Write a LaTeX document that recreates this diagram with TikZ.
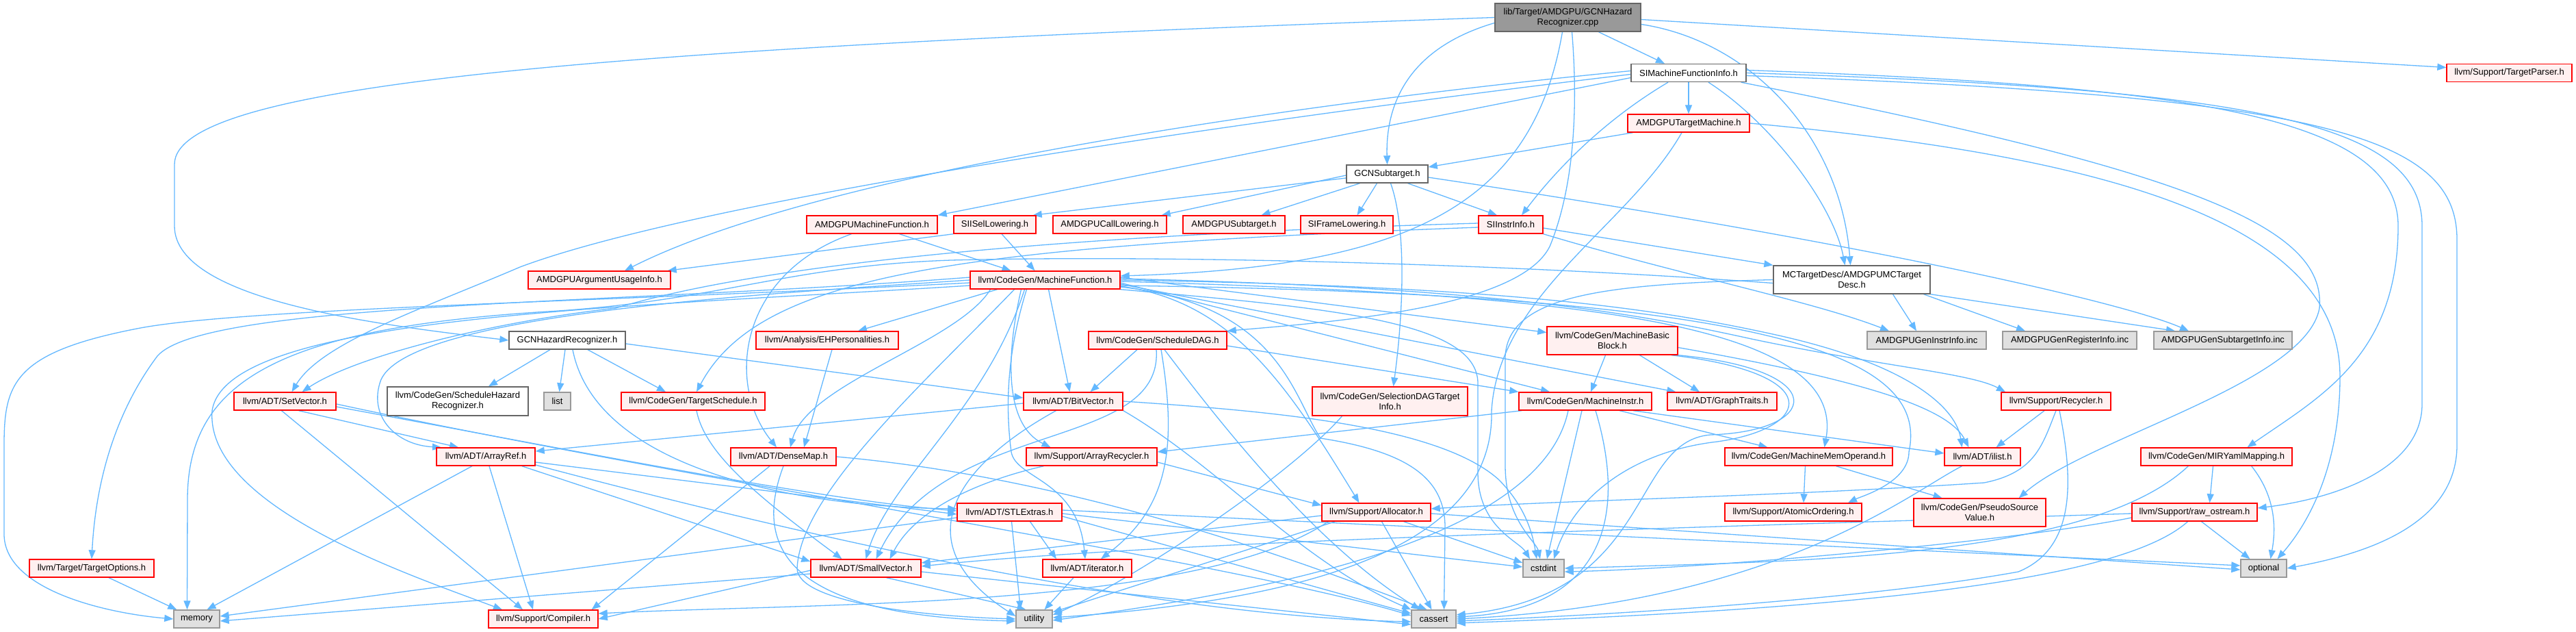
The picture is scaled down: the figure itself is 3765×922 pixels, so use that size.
\documentclass[tikz,border=0pt]{standalone}
\usepackage{fontspec}
\newfontfamily\nfam{Liberation Sans}
\usetikzlibrary{arrows.meta,calc}
\definecolor{edgec}{HTML}{63B8FF}
\definecolor{nred}{HTML}{FF0000}
\definecolor{nredfill}{HTML}{FFF0F0}
\definecolor{ndark}{HTML}{666666}
\definecolor{nmid}{HTML}{999999}
\definecolor{nlight}{HTML}{E0E0E0}
\pgfdeclarelayer{bg}
\pgfsetlayers{bg,main}
\tikzset{
  nb/.style={draw, line width=1.4pt, font=\nfam\fontsize{13}{15}\selectfont, inner sep=2pt, minimum height=26pt, align=center, text=black},
  redn/.style={nb, draw=nred, fill=nredfill},
  whiten/.style={nb, draw=ndark, fill=white},
  greyn/.style={nb, draw=nmid, fill=nlight},
  rootn/.style={nb, draw=ndark, fill=nmid},
  e/.style={draw=edgec, line width=1.3pt, -{Triangle[length=13pt,width=10pt]}},
}
\begin{document}
\begin{tikzpicture}[x=1pt,y=-1pt]
\useasboundingbox (0,0) rectangle (3765,922);
% nodes
\node[rootn, minimum width=213pt, minimum height=41pt] (root) at (2291.5,25.5) {lib/Target/AMDGPU/GCNHazard\\Recognizer.cpp};
\node[whiten, minimum width=168pt] (simfi) at (2468,106.5) {SIMachineFunctionInfo.h};
\node[redn, minimum width=183pt] (tparser) at (3667.5,106.5) {llvm/Support/TargetParser.h};
\node[redn, minimum width=178pt] (tm) at (2468,180) {AMDGPUTargetMachine.h};
\node[whiten, minimum width=119pt] (gcnsub) at (2027.5,254) {GCNSubtarget.h};
\node[redn, minimum width=191pt] (amfunc) at (1274.5,328) {AMDGPUMachineFunction.h};
\node[redn, minimum width=120pt] (isel) at (1454,328) {SIISelLowering.h};
\node[redn, minimum width=166pt] (calllow) at (1622,328) {AMDGPUCallLowering.h};
\node[redn, minimum width=149pt] (amsub) at (1803.5,328) {AMDGPUSubtarget.h};
\node[redn, minimum width=135pt] (sifl) at (1968.5,328) {SIFrameLowering.h};
\node[redn, minimum width=94pt] (siinstr) at (2208,328) {SIInstrInfo.h};
\node[redn, minimum width=208pt] (argusage) at (876,409) {AMDGPUArgumentUsageInfo.h};
\node[redn, minimum width=219pt] (mf) at (1527.5,409) {llvm/CodeGen/MachineFunction.h};
\node[whiten, minimum width=229pt, minimum height=41pt] (mctd) at (2706.5,408.5) {MCTargetDesc/AMDGPUMCTarget\\Desc.h};
\node[whiten, minimum width=170pt] (gcnhr) at (829,497) {GCNHazardRecognizer.h};
\node[redn, minimum width=208pt] (ehp) at (1209,497) {llvm/Analysis/EHPersonalities.h};
\node[redn, minimum width=202pt] (sdag) at (1692,497) {llvm/CodeGen/ScheduleDAG.h};
\node[redn, minimum width=191pt, minimum height=41pt] (mbb) at (2356.5,497.5) {llvm/CodeGen/MachineBasic\\Block.h};
\node[greyn, minimum width=174pt] (geninstr) at (2816,497) {AMDGPUGenInstrInfo.inc};
\node[greyn, minimum width=196pt] (genreg) at (3025,497) {AMDGPUGenRegisterInfo.inc};
\node[greyn, minimum width=202pt] (gensub) at (3249,497) {AMDGPUGenSubtargetInfo.inc};
\node[redn, minimum width=149pt] (setvec) at (416.5,586) {llvm/ADT/SetVector.h};
\node[whiten, minimum width=206pt, minimum height=42pt] (shr) at (669,586) {llvm/CodeGen/ScheduleHazard\\Recognizer.h};
\node[greyn, minimum width=39pt] (list) at (814.5,586) {list};
\node[redn, minimum width=210pt] (tsched) at (1013,586) {llvm/CodeGen/TargetSchedule.h};
\node[redn, minimum width=145pt] (bitvec) at (1568.5,586) {llvm/ADT/BitVector.h};
\node[redn, minimum width=227pt, minimum height=42pt] (sdti) at (2031.5,586) {llvm/CodeGen/SelectionDAGTarget\\Info.h};
\node[redn, minimum width=194pt] (minstr) at (2317,586) {llvm/CodeGen/MachineInstr.h};
\node[redn, minimum width=160pt] (gtraits) at (2517,586) {llvm/ADT/GraphTraits.h};
\node[redn, minimum width=160pt] (recycler) at (3005,586) {llvm/Support/Recycler.h};
\node[redn, minimum width=144pt] (arrayref) at (710,667) {llvm/ADT/ArrayRef.h};
\node[redn, minimum width=154pt] (densemap) at (1145,667) {llvm/ADT/DenseMap.h};
\node[redn, minimum width=191pt] (arecyc) at (1595.5,667) {llvm/Support/ArrayRecycler.h};
\node[redn, minimum width=245pt] (mmo) at (2643.5,667) {llvm/CodeGen/MachineMemOperand.h};
\node[redn, minimum width=111pt] (ilist) at (2897.5,667) {llvm/ADT/ilist.h};
\node[redn, minimum width=221pt] (mir) at (3239.5,667) {llvm/CodeGen/MIRYamlMapping.h};
\node[redn, minimum width=153pt] (stl) at (1475.5,748) {llvm/ADT/STLExtras.h};
\node[redn, minimum width=159pt] (alloc) at (2011.5,748) {llvm/Support/Allocator.h};
\node[redn, minimum width=200pt] (atomic) at (2621,748) {llvm/Support/AtomicOrdering.h};
\node[redn, minimum width=193pt, minimum height=41pt] (psv) at (2893.5,748.5) {llvm/CodeGen/PseudoSource\\Value.h};
\node[redn, minimum width=183pt] (rawos) at (3207.5,748) {llvm/Support/raw\_ostream.h};
\node[redn, minimum width=182pt] (topts) at (134,830) {llvm/Target/TargetOptions.h};
\node[redn, minimum width=161pt] (smallvec) at (1265.5,830) {llvm/ADT/SmallVector.h};
\node[redn, minimum width=130pt] (iter) at (1589,830) {llvm/ADT/iterator.h};
\node[greyn, minimum width=60pt] (cstdint) at (2256,830) {cstdint};
\node[greyn, minimum width=67pt] (optional) at (3308.5,830) {optional};
\node[greyn, minimum width=67pt] (memory) at (287.5,904) {memory};
\node[redn, minimum width=160pt] (compiler) at (794,904) {llvm/Support/Compiler.h};
\node[greyn, minimum width=53pt] (utility) at (1511.5,904) {utility};
\node[greyn, minimum width=65pt] (cassert) at (2095.5,904) {cassert};
% edges
\begin{pgfonlayer}{bg}
\fill[white] (0,0) rectangle (3765,922);
% root
\draw[e] (root.west) .. controls (900,70) and (255,120) .. (255,240) -- (255,330) .. controls (255,440) and (560,475) .. (gcnhr.west);
\draw[e] ($(root.west)+(0,8)$) .. controls (2060,70) and (2025,150) .. (gcnsub.north);
\draw[e] ($(root.south)+(45,0)$) -- ($(simfi.north)+(-35,0)$);
\draw[e] ($(root.east)+(0,10)$) .. controls (2560,60) and (2690,200) .. ($(mctd.north)+(-2,0)$);
\draw[e] ($(root.east)+(0,3)$) -- ($(tparser.west)+(0,-8)$);
\draw[e] ($(root.south)+(-8,0)$) .. controls (2240,300) and (2060,390) .. ($(mf.east)+(0,-6)$);
\draw[e] ($(root.south)+(6,0)$) .. controls (2310,200) and (2290,300) .. (2265,360) .. controls (2220,450) and (1950,470) .. (sdag.north east);
% SIMachineFunctionInfo
\draw[e] (simfi) -- (tm);
\draw[e] ($(simfi.south)+(-30,0)$) .. controls (2320,190) and (2250,280) .. ($(siinstr.north)+(16,0)$);
\draw[e] ($(simfi.south)+(29,0)$) .. controls (2590,180) and (2680,300) .. ($(mctd.north)+(-10,0)$);
\draw[e] ($(simfi.west)+(0,-3)$) .. controls (1900,150) and (1200,250) .. ($(argusage.north)+(37,0)$);
\draw[e] ($(simfi.west)+(0,2)$) .. controls (1700,190) and (1000,300) .. (760,390) .. controls (620,450) and (470,500) .. ($(setvec.north)+(10,0)$);
\draw[e] ($(simfi.west)+(0,7)$) -- (amfunc.north east);
\draw[e] ($(simfi.east)+(0,-4)$) .. controls (3200,125) and (3505,170) .. (3505,330) .. controls (3505,520) and (3390,580) .. ($(mir.north)+(45,0)$);
\draw[e] (simfi.east) .. controls (3300,130) and (3540,180) .. (3540,330) -- (3540,590) .. controls (3540,690) and (3400,730) .. ($(rawos.east)+(0,-6)$);
\draw[e] ($(simfi.east)+(0,4)$) .. controls (3400,140) and (3591,200) .. (3591,350) -- (3591,650) .. controls (3591,770) and (3450,810) .. (optional.east);
\draw[e] ($(simfi.south east)+(-8,0)$) .. controls (3200,250) and (3400,330) .. (3390,450) .. controls (3370,560) and (3050,640) .. ($(psv.north east)+(-40,0)$);
% AMDGPUTargetMachine
\draw[e] (tm) -- (gcnsub);
\draw[e] (tm.east) .. controls (3100,230) and (3420,330) .. (3420,550) .. controls (3420,700) and (3360,780) .. ($(optional.north)+(20,0)$);
\draw[e] ($(tm.south)+(-10,0)$) .. controls (2380,330) and (2190,430) .. (2180,600) .. controls (2185,820) and (1850,880) .. ($(utility.east)+(0,-2)$);
% GCNSubtarget
\draw[e] ($(gcnsub.west)+(0,6)$) -- ($(isel.north east)+(-5,0)$);
\draw[e] ($(gcnsub.west)+(0,2)$) -- ($(calllow.north east)+(-8,0)$);
\draw[e] ($(gcnsub.south)+(-40,0)$) -- ($(amsub.north)+(40,0)$);
\draw[e] ($(gcnsub.south)+(-15,0)$) -- ($(sifl.north)+(15,0)$);
\draw[e] ($(gcnsub.south)+(30,0)$) -- ($(siinstr.north)+(-20,0)$);
\draw[e] ($(gcnsub.south)+(5,0)$) .. controls (2055,330) and (2052,450) .. ($(sdti.north)+(5,0)$);
\draw[e] ($(gcnsub.east)+(0,5)$) .. controls (2700,350) and (3100,440) .. ($(gensub.north)+(-50,0)$);
% SIInstrInfo
\draw[e] ($(siinstr.east)+(0,5)$) -- (mctd.north west);
\draw[e] (siinstr.south east) .. controls (2450,400) and (2650,440) .. ($(geninstr.north)+(-55,0)$);
\draw[e] ($(siinstr.west)+(0,-2)$) .. controls (1500,345) and (1100,390) .. (900,450) .. controls (720,470) and (520,520) .. ($(setvec.north)+(25,0)$);
\draw[e] ($(siinstr.west)+(0,4)$) .. controls (1400,360) and (1110,400) .. ($(tsched.north)+(5,0)$);
% MCTargetDesc
\draw[e] ($(mctd.south)+(60,0)$) -- ($(geninstr.north)+(-15,0)$);
\draw[e] ($(mctd.south)+(105,0)$) -- ($(genreg.north)+(-65,0)$);
\draw[e] (mctd.south east) -- ($(gensub.north)+(-70,0)$);
\draw[e] ($(mctd.west)+(0,5)$) .. controls (2200,385) and (1700,372) .. (1390,380) .. controls (1150,388) and (1050,440) .. (800,455) .. controls (400,480) and (274,560) .. (274,730) -- ($(memory.north)+(-14,0)$);
\draw[e] (mctd.west) .. controls (2350,415) and (2205,430) .. (2200,520) -- (2200,680) .. controls (2200,760) and (2245,790) .. ($(cstdint.north)+(-5,0)$);
% GCNHazardRecognizer
\draw[e] ($(gcnhr.south)+(-25,0)$) -- ($(shr.north)+(45,0)$);
\draw[e] ($(gcnhr.south)+(-3,0)$) -- ($(list.north)+(3,0)$);
\draw[e] ($(gcnhr.south)+(30,0)$) -- ($(tsched.north)+(-40,0)$);
\draw[e] ($(gcnhr.east)+(0,5)$) -- ($(bitvec.west)+(0,-5)$);
\draw[e] ($(gcnhr.south)+(8,0)$) .. controls (870,680) and (1150,740) .. ($(stl.west)+(0,-5)$);
% AMDGPUMachineFunction, SIISelLowering
\draw[e] ($(amfunc.south)+(40,0)$) -- ($(mf.north)+(-50,0)$);
\draw[e] ($(amfunc.south)+(-30,0)$) .. controls (1080,400) and (1060,560) .. ($(densemap.north)+(-10,0)$);
\draw[e] (isel.south west) -- ($(argusage.north east)+(-5,0)$);
\draw[e] ($(isel.south)+(10,0)$) -- ($(mf.north)+(-15,0)$);
% MachineFunction
\draw[e] ($(mf.south)+(-70,0)$) -- ($(ehp.north)+(45,0)$);
\draw[e] ($(mf.south)+(5,0)$) -- ($(bitvec.north)+(-5,0)$);
\draw[e] ($(mf.east)+(0,-4)$) -- ($(mbb.west)+(0,-12)$);
\draw[e] ($(mf.east)+(0,4)$) -- ($(minstr.north)+(-52,0)$);
\draw[e] ($(mf.east)+(0,6)$) -- ($(gtraits.north west)+(13,0)$);
\draw[e] ($(mf.east)+(0,2)$) .. controls (2300,430) and (2700,470) .. ($(mmo.north)+(23,0)$);
\draw[e] ($(mf.east)+(0,8)$) .. controls (2600,430) and (2820,520) .. (2790,660) .. controls (2790,705) and (2720,725) .. ($(atomic.north)+(80,0)$);
\draw[e] ($(mf.east)+(0,-2)$) .. controls (2200,420) and (2400,460) .. (2560,495) .. controls (2750,535) and (2880,545) .. ($(recycler.north)+(-74,0)$);
\draw[e] (mf.east) .. controls (2200,418) and (2420,450) .. (2600,490) .. controls (2800,535) and (2860,600) .. ($(ilist.north)+(-30,0)$);
\draw[e] ($(mf.west)+(0,-4)$) .. controls (900,445) and (300,440) .. (230,520) .. controls (170,600) and (140,700) .. (topts.north);
\draw[e] ($(mf.west)+(0,4)$) .. controls (900,440) and (350,450) .. (200,480) .. controls (20,515) and (6,560) .. (6,650) -- (6,780) .. controls (6,860) and (150,895) .. (memory.west);
\draw[e] (mf.west) .. controls (1100,430) and (580,460) .. (555,560) .. controls (540,610) and (580,650) .. ($(arrayref.north)+(-65,0)$);
\draw[e] ($(mf.south)+(-80,0)$) .. controls (1400,500) and (1180,560) .. ($(densemap.north)+(10,0)$);
\draw[e] ($(mf.south)+(-30,0)$) .. controls (1440,600) and (1300,700) .. (smallvec.north);
\draw[e] ($(mf.south)+(-27,0)$) .. controls (1470,520) and (1470,600) .. (1478,660) .. controls (1485,700) and (1575,700) .. ($(iter.north)+(-3,0)$);
\draw[e] ($(mf.south)+(-35,0)$) .. controls (1470,520) and (1468,620) .. ($(arecyc.north)+(-60,0)$);
\draw[e] ($(mf.east)+(0,9)$) .. controls (1800,440) and (1880,560) .. ($(alloc.north)+(-25,0)$);
\draw[e] ($(mf.west)+(0,8)$) .. controls (900,450) and (330,460) .. (310,600) .. controls (300,740) and (600,840) .. ($(compiler.north)+(-60,0)$);
\draw[e] ($(mf.east)+(0,10)$) .. controls (1870,445) and (1890,580) .. (1930,640) .. controls (2060,660) and (2112,700) .. (2112,770) -- ($(cassert.north)+(15,0)$);
\draw[e] (mf.south east) .. controls (1950,450) and (2160,470) .. (2160,560) -- (2160,690) .. controls (2160,770) and (2220,790) .. ($(cstdint.north)+(-20,0)$);
\draw[e] ($(mf.south)+(-45,0)$) .. controls (1350,560) and (1170,720) .. (1165,830) .. controls (1165,880) and (1350,900) .. (utility.west);
% MachineBasicBlock
\draw[e] ($(mbb.south)+(-10,0)$) -- ($(minstr.north)+(8,0)$);
\draw[e] ($(mbb.south)+(40,0)$) -- ($(gtraits.north)+(-33,0)$);
\draw[e] ($(mbb.east)+(0,10)$) .. controls (2750,560) and (2850,600) .. ($(ilist.north)+(-20,0)$);
\draw[e] (mbb.south east) .. controls (2680,540) and (2660,630) .. (2500,635) .. controls (2380,645) and (2420,870) .. ($(cassert.east)+(0,-6)$);
\draw[e] ($(mbb.south east)+(-10,0)$) .. controls (2670,545) and (2650,625) .. (2510,645) .. controls (2380,660) and (2300,730) .. ($(cstdint.north)+(15,0)$);
% MachineInstr
\draw[e] ($(minstr.south)+(50,0)$) -- ($(mmo.north)+(-60,0)$);
\draw[e] ($(minstr.south)+(70,0)$) -- ($(ilist.west)+(0,-5)$);
\draw[e] ($(minstr.south west)+(5,0)$) -- ($(arecyc.east)+(0,-7)$);
\draw[e] ($(minstr.south)+(-5,0)$) -- ($(cstdint.north)+(5,0)$);
\draw[e] ($(minstr.south)+(15,0)$) .. controls (2380,760) and (2340,890) .. ($(cassert.east)+(0,-3)$);
\draw[e] ($(minstr.south)+(-25,0)$) .. controls (2250,800) and (1800,870) .. ($(utility.east)+(0,2)$);
% ScheduleDAG
\draw[e] ($(sdag.south)+(-30,0)$) -- ($(bitvec.north)+(25,0)$);
\draw[e] ($(sdag.south)+(-2,0)$) .. controls (1700,660) and (1380,610) .. ($(smallvec.north)+(15,0)$);
\draw[e] ($(sdag.south)+(5,0)$) .. controls (1720,650) and (1710,740) .. ($(iter.north)+(20,0)$);
\draw[e] ($(sdag.east)+(0,8)$) -- (minstr.north west);
\draw[e] ($(sdag.south)+(10,0)$) .. controls (1800,640) and (1930,800) .. ($(cassert.north)+(-20,0)$);
% SelectionDAGTargetInfo
\draw[e] ($(sdti.south)+(-70,0)$) .. controls (1880,700) and (1650,850) .. ($(utility.east)+(0,-6)$);
% BitVector
\draw[e] ($(bitvec.west)+(0,3)$) -- ($(arrayref.east)+(0,-8)$);
\draw[e] (bitvec.south east) .. controls (1780,680) and (1900,820) .. (cassert.north west);
\draw[e] (bitvec.east) .. controls (1850,600) and (2100,620) .. (2190,700) .. controls (2230,740) and (2240,780) .. ($(cstdint.north)+(-10,0)$);
\draw[e] ($(bitvec.south)+(-25,0)$) .. controls (1380,690) and (1330,800) .. ($(utility.west)+(0,-4)$);
% TargetSchedule
\draw[e] ($(tsched.south)+(5,0)$) .. controls (1030,660) and (1100,720) .. ($(smallvec.north)+(-35,0)$);
% SetVector
\draw[e] ($(setvec.south)+(20,0)$) -- ($(arrayref.north)+(-40,0)$);
\draw[e] ($(setvec.south)+(-5,0)$) -- ($(compiler.north)+(-30,0)$);
\draw[e] ($(setvec.east)+(0,8)$) .. controls (850,660) and (1200,730) .. ($(stl.west)+(0,-2)$);
\draw[e] ($(setvec.east)+(0,4)$) .. controls (1000,700) and (1800,820) .. ($(cassert.west)+(0,-5)$);
% ArrayRef
\draw[e] ($(arrayref.south)+(-20,0)$) -- ($(memory.north)+(15,0)$);
\draw[e] ($(arrayref.south)+(5,0)$) -- ($(compiler.north)+(-15,0)$);
\draw[e] ($(arrayref.south east)+(-20,0)$) -- ($(smallvec.west)+(0,-10)$);
\draw[e] ($(arrayref.east)+(0,8)$) -- ($(stl.west)+(0,3)$);
\draw[e] ($(arrayref.east)+(0,12)$) .. controls (1200,790) and (1700,900) .. ($(cassert.west)+(0,4)$);
% DenseMap
\draw[e] ($(densemap.south)+(-20,0)$) -- ($(compiler.north east)+(-10,0)$);
\draw[e] (densemap.south) .. controls (1100,800) and (1150,900) .. ($(utility.west)+(0,3)$);
\draw[e] (densemap.east) .. controls (1600,700) and (1950,840) .. ($(cassert.north)+(-10,0)$);
% ArrayRecycler
\draw[e] ($(arecyc.south)+(-70,0)$) .. controls (1440,700) and (1340,740) .. ($(smallvec.north)+(35,0)$);
\draw[e] ($(arecyc.east)+(0,8)$) -- ($(alloc.west)+(0,-10)$);
% STLExtras
\draw[e] ($(stl.south)+(30,0)$) -- ($(iter.north)+(-45,0)$);
\draw[e] ($(stl.south)+(3,0)$) -- ($(utility.north)+(-20,0)$);
\draw[e] ($(stl.west)+(0,8)$) -- ($(memory.east)+(0,-4)$);
\draw[e] ($(stl.east)+(0,6)$) -- ($(cassert.west)+(0,-8)$);
\draw[e] ($(stl.east)+(0,2)$) -- ($(cstdint.west)+(0,-2)$);
\draw[e] ($(stl.east)+(0,-3)$) -- ($(optional.west)+(0,-4)$);
% SmallVector
\draw[e] ($(smallvec.west)+(0,3)$) -- (compiler.east);
\draw[e] ($(smallvec.west)+(0,8)$) -- ($(memory.east)+(0,3)$);
\draw[e] ($(smallvec.south)+(30,0)$) -- ($(utility.north)+(-12,0)$);
\draw[e] ($(smallvec.east)+(0,5)$) -- ($(cassert.west)+(0,8)$);
% iterator
\draw[e] ($(iter.south)+(-20,0)$) -- ($(utility.north)+(15,0)$);
% Allocator
\draw[e] ($(alloc.south)+(8,0)$) -- ($(cassert.north)+(-3,0)$);
\draw[e] ($(alloc.south)+(40,0)$) -- ($(cstdint.west)+(0,-8)$);
\draw[e] ($(alloc.west)+(0,5)$) -- ($(smallvec.east)+(0,-8)$);
\draw[e] ($(alloc.south west)+(10,0)$) .. controls (1750,890) and (1200,880) .. ($(compiler.east)+(0,-8)$);
\draw[e] ($(alloc.south west)+(20,0)$) -- ($(utility.east)+(0,-10)$);
\draw[e] ($(alloc.east)+(0,2)$) -- ($(optional.west)+(0,2)$);
% MachineMemOperand
\draw[e] ($(mmo.south)+(-5,0)$) -- ($(atomic.north)+(15,0)$);
\draw[e] ($(mmo.south)+(40,0)$) -- ($(psv.north)+(-55,0)$);
% Recycler
\draw[e] ($(recycler.south)+(-17,0)$) -- ($(ilist.north)+(20,0)$);
\draw[e] (recycler.south) .. controls (2985,650) and (2975,690) .. (2900,705) .. controls (2600,725) and (2300,730) .. ($(alloc.east)+(0,-5)$);
\draw[e] ($(recycler.south)+(5,0)$) .. controls (3030,700) and (3035,800) .. (2950,835) .. controls (2700,880) and (2300,900) .. ($(cassert.east)+(0,3)$);
% ilist
\draw[e] ($(ilist.south)+(-30,0)$) .. controls (2790,720) and (2600,880) .. (cassert.east);
% MIRYamlMapping
\draw[e] ($(mir.south)+(-5,0)$) -- ($(rawos.north)+(22,0)$);
\draw[e] ($(mir.south east)+(-60,0)$) .. controls (3330,730) and (3325,780) .. ($(optional.north)+(10,0)$);
\draw[e] ($(mir.south west)+(70,0)$) .. controls (3050,820) and (2600,820) .. (cstdint.east);
% raw_ostream
\draw[e] ($(rawos.south)+(10,0)$) -- ($(optional.north)+(-20,0)$);
\draw[e] ($(rawos.west)+(0,2)$) .. controls (2500,770) and (1700,790) .. ($(smallvec.east)+(0,-3)$);
\draw[e] ($(rawos.west)+(0,8)$) .. controls (2950,790) and (2500,830) .. ($(cstdint.east)+(0,5)$);
\draw[e] ($(rawos.south)+(-10,0)$) .. controls (3100,850) and (2700,890) .. ($(cassert.east)+(0,6)$);
% others
\draw[e] ($(topts.south)+(25,0)$) -- ($(memory.north west)+(5,0)$);
\draw[e] ($(ehp.south)+(7,0)$) -- ($(densemap.north)+(30,0)$);
\end{pgfonlayer}
\end{tikzpicture}
\end{document}
